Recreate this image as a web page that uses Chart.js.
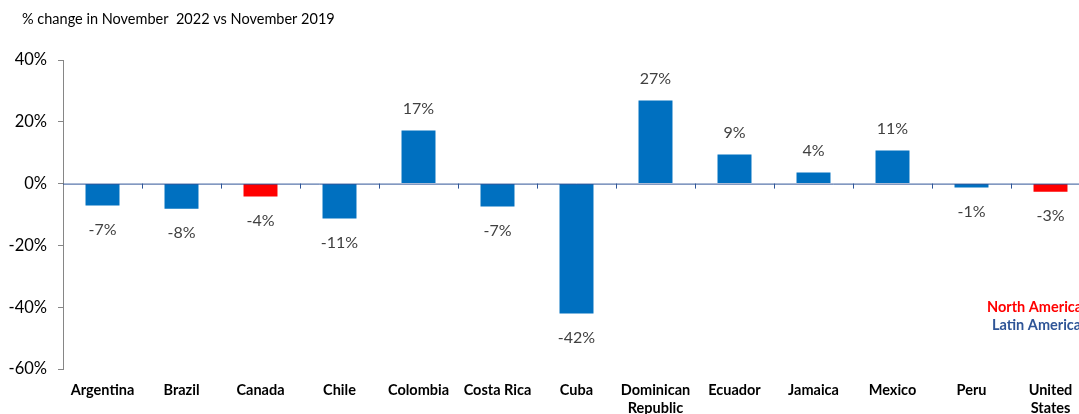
<!DOCTYPE html>
<html>
<head>
<meta charset="utf-8">
<script src="https://cdn.jsdelivr.net/npm/chart.js@4.4.0/dist/chart.umd.min.js"></script>
<style>
  html, body { margin: 0; padding: 0; background: #fff; overflow: hidden; }
  #wrap { width: 1100px; height: 414px; position: relative; }
</style>
</head>
<body>
<div id="wrap"><canvas id="chart"></canvas></div>
<script>
// chart data
const countries = ['Argentina', 'Brazil', 'Canada', 'Chile', 'Colombia', 'Costa Rica', 'Cuba',
    ['Dominican', 'Republic'], 'Ecuador', 'Jamaica', 'Mexico', 'Peru', ['United', 'States']];
const changes = [-7.1, -8.1, -4.2, -11.3, 17.2, -7.4, -42, 26.9, 9.4, 3.6, 10.7, -1.3, -2.6];
const labelsShown = ['-7%', '-8%', '-4%', '-11%', '17%', '-7%', '-42%', '27%', '9%', '4%', '11%', '-1%', '-3%'];
const region = ['LA', 'LA', 'NA', 'LA', 'LA', 'LA', 'LA', 'LA', 'LA', 'LA', 'LA', 'LA', 'NA'];
const yTicks = [40, 20, 0, -20, -40, -60];

const FONT = 'Lato, "Open Sans", sans-serif';
const BLUE = '#0070C0';
const RED = '#FF0000';

// value labels, zero line, legend text and title
const extras = {
    id: 'extras',
    afterDatasetsDraw(chart) {
        const ctx = chart.ctx;
        const x = chart.scales.x, y = chart.scales.y;
        const area = chart.chartArea;
        const y0 = y.getPixelForValue(0);

        // zero line with category tick marks
        ctx.save();
        ctx.strokeStyle = '#2F5597';
        ctx.lineWidth = 1;
        ctx.beginPath();
        ctx.moveTo(area.left, y0 + 0.5);
        ctx.lineTo(area.right, y0 + 0.5);
        for (let i = 1; i < countries.length; i++) {
            const px = Math.round((x.getPixelForValue(i - 1) + x.getPixelForValue(i)) / 2) + 0.5;
            ctx.moveTo(px, y0);
            ctx.lineTo(px, y0 + 5);
        }
        ctx.stroke();

        // value labels
        ctx.font = '16px ' + FONT;
        ctx.fillStyle = '#404040';
        ctx.textAlign = 'center';
        ctx.textBaseline = 'middle';
        const meta = chart.getDatasetMeta(0);
        meta.data.forEach((bar, i) => {
            const v = changes[i];
            const py = v >= 0 ? bar.y - 22 : bar.y + 24;
            ctx.fillText(labelsShown[i], bar.x, py);
        });

        // legend text
        ctx.font = 'bold 14.5px ' + FONT;
        ctx.textAlign = 'left';
        ctx.fillStyle = RED;
        ctx.fillText('North America', 987, 307);
        ctx.fillStyle = '#2F5597';
        ctx.fillText('Latin America', 992, 325);

        // title
        ctx.font = '14.5px ' + FONT;
        ctx.fillStyle = '#000';
        ctx.fillText('% change in November  2022 vs November 2019', 22, 19);
        ctx.restore();
    }
};

new Chart(document.getElementById('chart'), {
    type: 'bar',
    data: {
        labels: countries,
        datasets: [{
            data: changes,
            backgroundColor: region.map(r => r === 'NA' ? RED : BLUE),
            barPercentage: 0.43,
            categoryPercentage: 1
        }]
    },
    options: {
        responsive: true,
        maintainAspectRatio: false,
        animation: false,
        layout: { padding: { top: 60, right: 10, left: 0, bottom: 0 } },
        plugins: {
            legend: { display: false },
            tooltip: { enabled: false }
        },
        scales: {
            x: {
                grid: { display: false },
                border: { display: false },
                ticks: {
                    color: '#000',
                    font: { family: FONT, size: 14.5, weight: 'bold' },
                    maxRotation: 0,
                    autoSkip: false,
                    padding: 5
                },
                afterFit(scale) { scale.height = 45; }
            },
            y: {
                min: -60,
                max: 40,
                afterBuildTicks(scale) { scale.ticks = yTicks.map(v => ({ value: v })); },
                grid: { drawOnChartArea: false, tickLength: 5, color: '#868686' },
                border: { color: '#868686' },
                ticks: {
                    color: '#000',
                    font: { family: FONT, size: 16.5 },
                    padding: 11,
                    callback: v => v + '%'
                },
                afterFit(scale) { scale.width = 63; }
            }
        }
    },
    plugins: [extras]
});
</script>
</body>
</html>
